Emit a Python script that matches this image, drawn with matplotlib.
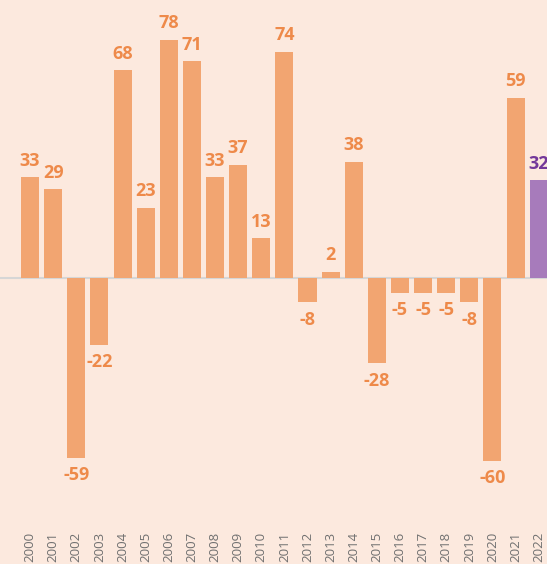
import matplotlib.pyplot as plt
from matplotlib.transforms import blended_transform_factory

jaren = [str(j) for j in range(2000, 2023)]
waarden = [33, 29, -59, -22, 68, 23, 78, 71, 33, 37, 13, 74, -8, 2, 38, -28, -5, -5, -5, -8, -60, 59, 32]

achtergrond = '#FCE9DE'
oranje = '#F2A571'
oranjeTekst = '#EE8A4A'
paars = '#A77BBB'
paarsTekst = '#73389A'

fig = plt.figure(figsize=(5.47, 5.64), dpi=100)
fig.patch.set_facecolor(achtergrond)
ax = fig.add_axes([0, 0, 1, 1])
ax.set_facecolor(achtergrond)

x = list(range(len(jaren)))
kleuren = [oranje] * (len(jaren) - 1) + [paars]
ax.bar(x, waarden, width=0.78, color=kleuren, zorder=2)
ax.axhline(0, color='#D6D6D6', lw=1.5, zorder=1)

for i, w in enumerate(waarden):
  kleur = paarsTekst if i == len(waarden) - 1 else oranjeTekst
  ax.annotate(str(w), (i, w), xytext=(0, 12 if w >= 0 else -12.5),
              textcoords='offset points', ha='center', va='center',
              fontsize=13, fontweight='bold', color=kleur, family='Open Sans')

trans = blended_transform_factory(ax.transData, ax.transAxes)
for i, j in enumerate(jaren):
  ax.text(i, 1 - 532 / 564, j, rotation=90, ha='center', va='top',
          fontsize=9.5, color='#707070', transform=trans, family='Open Sans')

ax.set_xlim(-1.3, 22.36)
ax.set_ylim(-93.8, 91.1)
ax.axis('off')

fig.savefig('out.png', dpi=100, facecolor=achtergrond)
